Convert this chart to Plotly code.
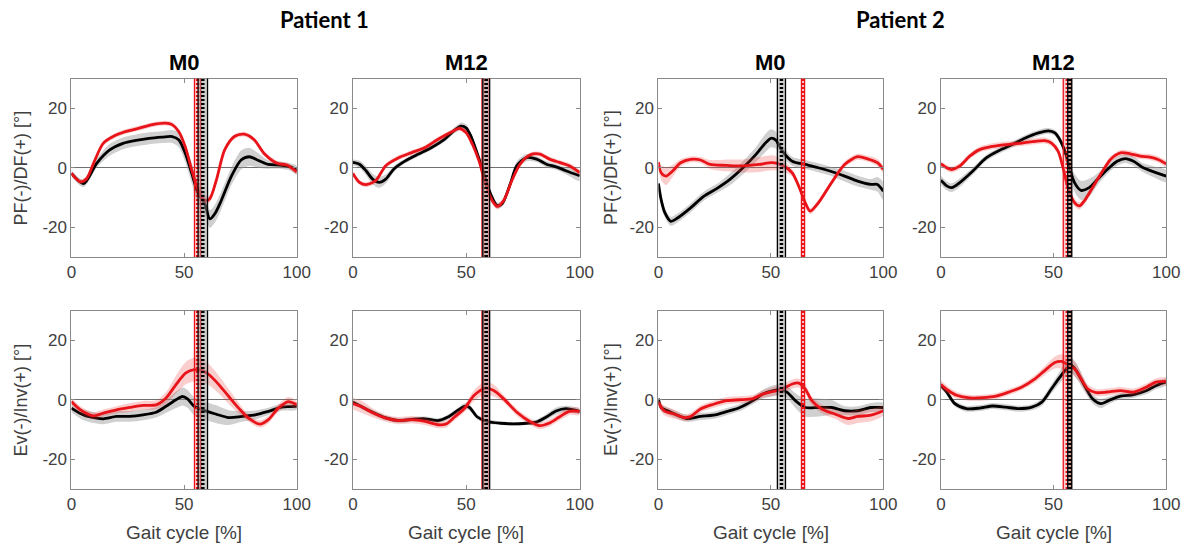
import plotly.graph_objects as go

# ---------------------------------------------------------------------------
# Data: ankle kinematics over the gait cycle, mean and SD per gait %.
# Each curve is a list of (gait cycle %, mean angle [deg], SD [deg]).
# ---------------------------------------------------------------------------
GAIT_TICKS = [0, 50, 100]
ANGLE_TICKS = [-20, 0, 20]
ANGLE_TICK_TEXT = ["-20", "0", "20"]
ANGLE_RANGE = [-30, 30]
GAIT_RANGE = [0, 100]

PATIENT_TITLES = ["Patient 1", "Patient 2"]
VISIT_TITLES = ["M0", "M12", "M0", "M12"]
ROW_LABELS = ["PF(-)/DF(+) [°]", "Ev(-)/Inv(+) [°]"]
X_LABEL = "Gait cycle [%]"

# Patient 1, M0 - sagittal plane
P1_M0_PF_BLACK = [(0, -1.9, 1.0), (5.4, -5.3, 1.2), (11.2, 1.5, 1.5), (17, 6.0, 2.0), (22.9, 8.2, 2.0),
                  (28.7, 9.2, 2.0), (34.5, 9.9, 2.0), (40.3, 10.3, 2.0), (44.7, 10.5, 2.2), (47.6, 9.4, 2.5),
                  (50.5, 4.9, 3.0), (53.4, -1.9, 3.5), (56.3, -8.7, 3.5), (59.2, -12.1, 3.5), (61.4, -17.2, 3.0),
                  (63.6, -15.5, 3.0), (66.5, -11.0, 3.0), (70.9, -3.0, 3.0), (75.3, 2.6, 3.2), (78.9, 3.7, 3.0),
                  (82.5, 2.6, 2.5), (86.9, 1.2, 1.5), (92.7, 0.9, 1.2), (97.1, 0.3, 1.2), (100, -0.8, 1.5)]
P1_M0_PF_RED = [(0, -1.9, 0.8), (3.9, -4.7, 0.8), (6.8, -3.6, 0.8), (9.8, 1.5, 0.8), (14.1, 8.2, 0.8),
                (18.5, 10.5, 0.8), (24.3, 12.2, 0.8), (30.1, 13.3, 0.8), (36, 14.5, 0.8), (41.8, 15.0, 0.8),
                (44.7, 14.5, 0.8), (47.6, 12.2, 0.8), (50.5, 7.1, 1.0), (53.4, -0.8, 1.2), (56.3, -7.6, 1.2),
                (59.2, -11.0, 1.2), (61.4, -10.4, 1.2), (64.3, -4.2, 1.2), (68, 6.0, 1.0), (72.3, 10.5, 0.8),
                (76.7, 11.3, 0.8), (81.1, 9.4, 0.8), (85.4, 4.9, 0.8), (91.3, 1.5, 0.8), (95.6, 0.9, 0.8),
                (100, -1.4, 0.8)]

# Patient 1, M0 - frontal plane
P1_M0_EV_BLACK = [(0, -2.8, 1.5), (5.4, -5.1, 1.8), (11.3, -6.2, 1.8), (14.2, -6.4, 1.8), (20, -5.6, 1.8),
                  (25.9, -5.6, 1.8), (31.8, -5.1, 1.8), (37.6, -4.2, 1.8), (42, -2.2, 2.2), (46.4, 0.0, 2.8),
                  (49.3, 1.1, 3.0), (51.5, 0.3, 3.0), (54.5, -2.2, 3.0), (58.1, -3.4, 3.0), (64, -4.8, 3.0),
                  (69.8, -6.0, 2.5), (75.7, -5.6, 1.8), (81.6, -5.1, 1.5), (87.4, -3.9, 1.2), (93.3, -2.5, 1.2),
                  (100, -2.2, 1.2)]
P1_M0_EV_RED = [(0, -0.6, 1.2), (4, -3.4, 1.2), (9.8, -5.4, 1.2), (14.2, -4.5, 1.2), (20, -3.4, 1.2),
                (25.9, -2.6, 1.5), (31.8, -1.9, 1.5), (37.6, -1.7, 1.5), (42, 0.6, 2.0), (46.4, 5.1, 3.0),
                (50.8, 9.0, 3.8), (54.5, 10.1, 4.0), (58.1, 9.8, 4.0), (61.1, 8.4, 3.5), (65.4, 5.1, 3.0),
                (69.8, 1.1, 2.5), (74.2, -2.8, 1.8), (78.6, -6.2, 1.2), (83.7, -8.2, 1.2), (87.4, -6.7, 1.2),
                (91.8, -2.8, 1.2), (96.2, -0.6, 1.5), (100, -1.7, 1.2)]

# Patient 1, M12 - sagittal plane
P1_M12_PF_BLACK = [(0, 1.8, 1.0), (2.9, 1.2, 1.2), (5.8, -1.0, 1.5), (8.7, -3.8, 1.8), (11.6, -4.9, 1.8),
                   (14.5, -3.8, 1.5), (18.1, -0.4, 1.0), (23.1, 2.3, 0.8), (28.9, 4.6, 0.8), (34.7, 6.8, 0.8),
                   (40.5, 9.6, 0.8), (44.8, 12.6, 1.0), (47.7, 14.0, 1.2), (49.9, 13.4, 1.2), (52, 10.7, 1.0),
                   (54.9, 4.6, 1.0), (57.8, -2.1, 1.0), (60.7, -8.8, 1.0), (63.6, -12.7, 1.0), (65.8, -12.1, 1.0),
                   (69.4, -5.4, 1.2), (72.3, 0.7, 1.5), (76.6, 3.4, 1.2), (81, 2.9, 1.0), (85.3, 1.2, 1.0),
                   (89.6, 0.3, 1.0), (93.9, -1.0, 1.2), (100, -2.7, 1.8)]
P1_M12_PF_RED = [(0, -1.9, 0.8), (2.9, -4.9, 0.8), (5.8, -5.7, 0.8), (10.1, -4.3, 0.8), (14.5, 0.7, 0.8),
                 (20.2, 3.4, 0.8), (26, 5.1, 0.8), (31.8, 6.8, 0.8), (37.6, 9.6, 0.8), (43.4, 12.0, 0.8),
                 (47, 13.2, 0.8), (49.9, 11.8, 0.8), (52.7, 7.9, 0.8), (55.6, 2.3, 0.8), (58.5, -5.4, 0.8),
                 (61.4, -11.0, 1.0), (63.6, -13.0, 1.0), (66.5, -11.0, 1.0), (70.1, -4.3, 0.8), (73.7, 1.2, 0.8),
                 (78, 4.3, 0.8), (82.4, 4.6, 0.8), (86.7, 2.9, 0.8), (91, 1.8, 0.8), (95.4, 0.7, 0.8),
                 (100, -1.6, 0.8)]

# Patient 1, M12 - frontal plane
P1_M12_EV_BLACK = [(0, -0.8, 0.8), (4.3, -2.5, 0.8), (8.7, -4.2, 0.8), (14.5, -6.1, 0.8), (20.2, -7.0, 0.8),
                   (26, -6.6, 0.8), (31.8, -6.4, 0.8), (37.6, -7.0, 0.8), (41.9, -5.8, 0.8), (46.2, -3.6, 0.8),
                   (49.1, -2.2, 1.0), (51.3, -2.5, 1.0), (54.9, -5.8, 0.8), (59.2, -7.3, 0.8), (65, -7.9, 0.6),
                   (70.8, -8.1, 0.6), (76.6, -7.9, 0.6), (80.9, -7.5, 0.8), (85.3, -5.8, 1.0), (89.6, -3.8, 1.2),
                   (93.9, -3.0, 1.0), (100, -3.9, 0.8)]
P1_M12_EV_RED = [(0, -1.3, 2.0), (4.3, -2.5, 2.0), (8.7, -4.4, 1.5), (14.5, -6.2, 1.2), (20.2, -7.0, 1.2),
                 (26, -6.7, 1.2), (31.8, -7.3, 1.2), (37.6, -8.4, 1.2), (41.2, -8.1, 1.2), (44.8, -5.8, 1.2),
                 (49.1, -3.0, 1.2), (53.5, 1.5, 1.8), (58.5, 3.9, 2.2), (62.1, 3.1, 2.0), (66.5, 0.3, 1.2),
                 (72.3, -4.2, 1.2), (78, -7.3, 1.2), (82.4, -8.7, 1.2), (86.7, -7.8, 1.2), (91, -5.8, 1.2),
                 (95.4, -3.9, 1.2), (100, -3.9, 1.2)]

# Patient 2, M0 - sagittal plane
P2_M0_PF_BLACK = [(0, -5.3, 1.5), (1.2, -10.7, 1.5), (2.9, -15.2, 1.5), (5.5, -18.0, 1.5), (8.5, -16.9, 1.5),
                  (14.3, -13.5, 1.5), (20.1, -9.6, 1.5), (25.9, -7.0, 1.5), (31.8, -3.9, 2.0), (37.6, 0.0, 2.2),
                  (43.4, 4.5, 2.5), (47.1, 7.9, 3.0), (50, 9.9, 3.0), (52.2, 9.3, 2.8), (55.1, 5.6, 2.0),
                  (59.5, 2.2, 1.5), (65.3, 1.1, 1.5), (71.1, 0.0, 1.5), (76.2, -1.1, 1.5), (82.8, -2.8, 1.8),
                  (88.6, -4.5, 1.8), (94.5, -5.6, 1.8), (97.4, -5.6, 2.5), (100, -7.9, 3.0)]
P2_M0_PF_RED = [(0, 1.9, 1.5), (1.2, -1.7, 2.5), (3.4, -2.8, 3.0), (6.3, -1.1, 2.0), (9.9, 1.7, 1.2),
                (14.3, 2.8, 1.0), (18.7, 2.6, 1.0), (23, 1.1, 1.5), (30.3, 0.8, 2.0), (37.6, 0.6, 2.2),
                (44.9, 1.1, 2.5), (50.7, 1.7, 2.5), (55.1, 0.8, 2.0), (59.5, -1.7, 1.2), (62.4, -6.2, 1.0),
                (65.3, -11.8, 1.0), (67.5, -14.6, 1.0), (71.1, -11.8, 1.0), (76.9, -5.1, 1.0), (82.8, 1.1, 1.0),
                (88.6, 3.7, 1.0), (93, 3.0, 1.0), (97.4, 1.7, 1.2), (100, -0.6, 1.2)]

# Patient 2, M0 - frontal plane
P2_M0_EV_BLACK = [(0, 0.4, 1.2), (1.2, -2.6, 1.2), (4.1, -3.7, 1.2), (8.5, -5.2, 1.2), (12.8, -6.3, 1.2),
                  (18.7, -5.6, 1.2), (24.5, -5.2, 1.2), (30.3, -4.0, 1.2), (36.2, -2.6, 1.2), (42, -0.3, 1.2),
                  (46.4, 1.9, 1.5), (50.7, 3.0, 1.8), (54.4, 3.4, 1.8), (57.3, 2.5, 2.0), (60.9, -0.3, 2.5),
                  (65.3, -2.6, 3.0), (71.1, -2.6, 3.0), (77, -2.6, 2.5), (82.8, -3.7, 1.5), (88.6, -3.7, 1.5),
                  (94.5, -2.6, 1.5), (100, -2.6, 1.5)]
P2_M0_EV_RED = [(0, -0.9, 1.5), (2.6, -3.7, 1.5), (7, -4.8, 1.5), (11.4, -6.0, 1.2), (14.3, -5.6, 1.2),
                (18.7, -3.1, 1.2), (24.5, -1.5, 1.2), (30.3, -0.3, 1.2), (36.2, 0.0, 1.2), (42, 0.4, 1.2),
                (46.4, 1.9, 1.2), (50.7, 2.7, 1.5), (55.1, 3.6, 1.5), (59.5, 5.3, 1.5), (62.4, 5.6, 1.5),
                (65.3, 3.6, 1.5), (68.2, -0.3, 1.5), (72.6, -3.1, 1.5), (78.4, -4.8, 1.5), (84.3, -6.3, 2.2),
                (88.6, -5.6, 2.2), (94.5, -5.2, 2.0), (100, -3.7, 1.5)]

# Patient 2, M12 - sagittal plane
P2_M12_PF_BLACK = [(0, -4.2, 1.5), (2.6, -6.1, 1.5), (4.8, -6.7, 1.5), (8.4, -5.0, 1.5), (14.2, -1.1, 1.2),
                   (20.1, 3.3, 1.0), (25.9, 5.8, 1.0), (31.7, 7.8, 1.0), (37.5, 10.0, 1.0), (43.3, 11.7, 1.0),
                   (47.7, 12.4, 1.0), (50.6, 11.7, 1.0), (52.8, 9.4, 1.2), (55, 5.6, 1.5), (57.1, 0.0, 2.0),
                   (59.3, -5.0, 3.0), (62.2, -7.6, 3.2), (65.8, -6.7, 3.0), (69.5, -3.9, 2.0), (73.8, -0.6, 1.5),
                   (78.2, 2.2, 1.5), (81.8, 3.1, 1.5), (85.5, 2.2, 1.5), (89.8, 0.0, 1.5), (94.2, -1.3, 1.8),
                   (100, -2.8, 2.0)]
P2_M12_PF_RED = [(0, 1.3, 1.0), (2.6, 0.0, 1.0), (4.8, -0.6, 1.0), (8.4, 0.6, 1.0), (12.8, 3.9, 1.0),
                 (17.2, 6.1, 1.0), (23, 7.2, 1.0), (28.8, 7.8, 1.0), (36, 8.3, 1.0), (41.9, 8.9, 1.0),
                 (46.2, 9.1, 1.0), (49.1, 8.3, 1.0), (52, 5.6, 1.0), (54.2, 0.0, 1.2), (56.4, -6.7, 1.2),
                 (59.3, -11.7, 1.2), (61.5, -12.8, 1.2), (63.7, -11.1, 1.2), (67.3, -6.7, 1.0), (70.9, -2.2, 1.0),
                 (75.3, 2.8, 1.0), (79.7, 5.0, 1.0), (84, 4.7, 1.0), (88.4, 3.9, 1.0), (92.7, 3.6, 1.0),
                 (96.4, 2.8, 1.0), (100, 1.3, 1.0)]

# Patient 2, M12 - frontal plane
P2_M12_EV_BLACK = [(0, 4.8, 1.0), (2.6, 2.6, 1.0), (6.2, -1.3, 1.0), (11.3, -3.0, 1.0), (17.2, -2.8, 1.0),
                   (23, -2.1, 1.0), (28.8, -2.5, 1.0), (34.6, -3.0, 1.0), (40.4, -2.5, 1.0), (44.8, -0.8, 1.2),
                   (49.1, 3.7, 1.5), (52.8, 7.6, 2.0), (55.7, 10.4, 2.5), (57.8, 11.6, 2.5), (60, 9.9, 2.5),
                   (63.7, 4.8, 2.0), (67.3, 0.3, 1.5), (70.9, -1.3, 1.5), (74.6, -0.2, 1.2), (79.7, 1.2, 1.0),
                   (85.5, 1.7, 1.0), (91.3, 3.1, 1.2), (95.6, 4.8, 1.2), (100, 6.0, 1.2)]
P2_M12_EV_RED = [(0, 5.1, 1.5), (3.3, 3.1, 1.2), (7, 1.5, 1.2), (12.8, 0.6, 1.0), (18.6, 0.7, 1.0),
                 (24.4, 1.2, 1.0), (30.2, 2.6, 1.0), (36, 4.3, 1.0), (41.9, 7.1, 1.2), (46.2, 9.9, 1.5),
                 (50.6, 12.5, 2.0), (53.5, 12.9, 2.5), (56.4, 11.8, 2.5), (59.3, 10.4, 2.5), (62.2, 7.1, 2.0),
                 (65.1, 3.7, 1.5), (68.8, 2.4, 1.2), (73.8, 2.6, 1.2), (79.7, 3.1, 1.2), (85.5, 2.6, 1.2),
                 (91.3, 4.3, 1.2), (95.6, 6.0, 1.2), (100, 6.2, 1.2)]

# Toe-off timing per column (mean %, SD %)
TOE_OFF_BLACK = [(58.3, 2.1), (58.8, 1.5), (54.7, 1.8), (57.2, 0.9)]
TOE_OFF_RED = [(56.0, 1.4), (58.5, 1.6), (64.3, 0.7), (56.1, 1.8)]

# Panels in reading order: top row (sagittal) then bottom row (frontal)
PANELS = [
    (P1_M0_PF_BLACK, P1_M0_PF_RED), (P1_M12_PF_BLACK, P1_M12_PF_RED),
    (P2_M0_PF_BLACK, P2_M0_PF_RED), (P2_M12_PF_BLACK, P2_M12_PF_RED),
    (P1_M0_EV_BLACK, P1_M0_EV_RED), (P1_M12_EV_BLACK, P1_M12_EV_RED),
    (P2_M0_EV_BLACK, P2_M0_EV_RED), (P2_M12_EV_BLACK, P2_M12_EV_RED),
]

# ---------------------------------------------------------------------------
# Layout geometry (pixels of the 1194 x 548 canvas)
# ---------------------------------------------------------------------------
FIG_W, FIG_H = 1194, 548
COL_PX = [(67.5, 296.5), (353.5, 584.0), (664.0, 892.5), (951.0, 1180.0)]
ROW_PX = [(78.5, 257.0), (310.5, 489.0)]

BLACK = "#000000"
RED = "#e8141a"
BLACK_FILL = "rgba(150,150,150,0.45)"
RED_FILL = "rgba(240,60,60,0.25)"
AXIS_GREY = "#8a8a8a"
TEXT_GREY = "#404040"
FONT = "Liberation Sans, Arial, sans-serif"

fig = go.Figure()


def axis_suffix(n):
    return "" if n == 1 else str(n)


def add_curve(pts, line_color, fill_color, xa, ya):
    xs = [p[0] for p in pts]
    upper = [p[1] + p[2] for p in pts]
    lower = [p[1] - p[2] for p in pts]
    fig.add_trace(go.Scatter(
        x=xs + xs[::-1], y=upper + lower[::-1], mode="lines", fill="toself",
        fillcolor=fill_color, line=dict(width=0, shape="spline", smoothing=0.8),
        hoverinfo="skip", showlegend=False, xaxis=xa, yaxis=ya))
    fig.add_trace(go.Scatter(
        x=xs, y=[p[1] for p in pts], mode="lines",
        line=dict(color=line_color, width=2.8, shape="spline", smoothing=0.8),
        showlegend=False, xaxis=xa, yaxis=ya))


shapes = []


def add_toe_off(mean_sd, line_color, fill_color, n):
    mean, sd = mean_sd
    sx = axis_suffix(n)
    xref, yref = "x" + sx, "y" + sx + " domain"
    shapes.append(dict(type="rect", xref=xref, yref=yref, x0=mean - sd, x1=mean + sd, y0=0, y1=1,
                       fillcolor=fill_color, line=dict(width=0), layer="above"))
    for edge in (mean - sd, mean + sd):
        shapes.append(dict(type="line", xref=xref, yref=yref, x0=edge, x1=edge, y0=0, y1=1,
                           line=dict(color=line_color, width=1.3), layer="above"))
    shapes.append(dict(type="line", xref=xref, yref=yref, x0=mean, x1=mean, y0=0, y1=1,
                       line=dict(color=line_color, width=3.5, dash="2px,2px"), layer="above"))


def text_note(text, x_px, y_px, size, color, family=FONT, angle=0):
    return dict(text=text, x=x_px / FIG_W, y=1 - y_px / FIG_H, xref="paper", yref="paper",
                xanchor="center", yanchor="middle", showarrow=False, textangle=angle,
                font=dict(family=family, size=size, color=color))


layout = {}
annotations = []
for i, (black_pts, red_pts) in enumerate(PANELS):
    r, c = divmod(i, 4)
    n = i + 1
    sx = axis_suffix(n)
    xa, ya = "x" + sx, "y" + sx
    add_curve(black_pts, BLACK, BLACK_FILL, xa, ya)
    add_curve(red_pts, RED, RED_FILL, xa, ya)
    add_toe_off(TOE_OFF_RED[c], RED, RED_FILL, n)
    add_toe_off(TOE_OFF_BLACK[c], BLACK, BLACK_FILL, n)

    x0, x1 = COL_PX[c]
    y0, y1 = ROW_PX[r]
    common = dict(showline=True, linecolor=AXIS_GREY, linewidth=1, mirror="ticks",
                  ticks="inside", ticklen=4, tickcolor=AXIS_GREY, showgrid=False,
                  tickfont=dict(family=FONT, size=17, color=TEXT_GREY), fixedrange=True)
    layout["xaxis" + sx] = dict(domain=[x0 / FIG_W, x1 / FIG_W], anchor=ya, range=GAIT_RANGE,
                                tickvals=GAIT_TICKS, zeroline=False, **common)
    layout["yaxis" + sx] = dict(domain=[1 - y1 / FIG_H, 1 - y0 / FIG_H], anchor=xa, range=ANGLE_RANGE,
                                tickvals=ANGLE_TICKS, ticktext=ANGLE_TICK_TEXT, zeroline=True,
                                zerolinecolor="#707070", zerolinewidth=1.3, **common)

    cx = (x0 + x1) / 2
    if r == 0:
        annotations.append(text_note("<b>%s</b>" % VISIT_TITLES[c], cx, 62, 22, "#000000"))
    else:
        annotations.append(text_note(X_LABEL, cx, 532, 19, TEXT_GREY))
    if c in (0, 2):
        lx = 16 if c == 0 else 616
        annotations.append(text_note(ROW_LABELS[r], lx, (y0 + y1) / 2, 18, TEXT_GREY, angle=-90))

for k, title in enumerate(PATIENT_TITLES):
    px = 325 if k == 0 else 910
    annotations.append(text_note("<b>%s</b>" % title, px, 20, 22, "#000000",
                                 family="Lato, Open Sans, sans-serif"))

fig.update_layout(
    width=FIG_W, height=FIG_H, margin=dict(l=0, r=0, t=0, b=0),
    paper_bgcolor="white", plot_bgcolor="white", showlegend=False,
    shapes=shapes, annotations=annotations, **layout)

fig.write_html("out.html")
